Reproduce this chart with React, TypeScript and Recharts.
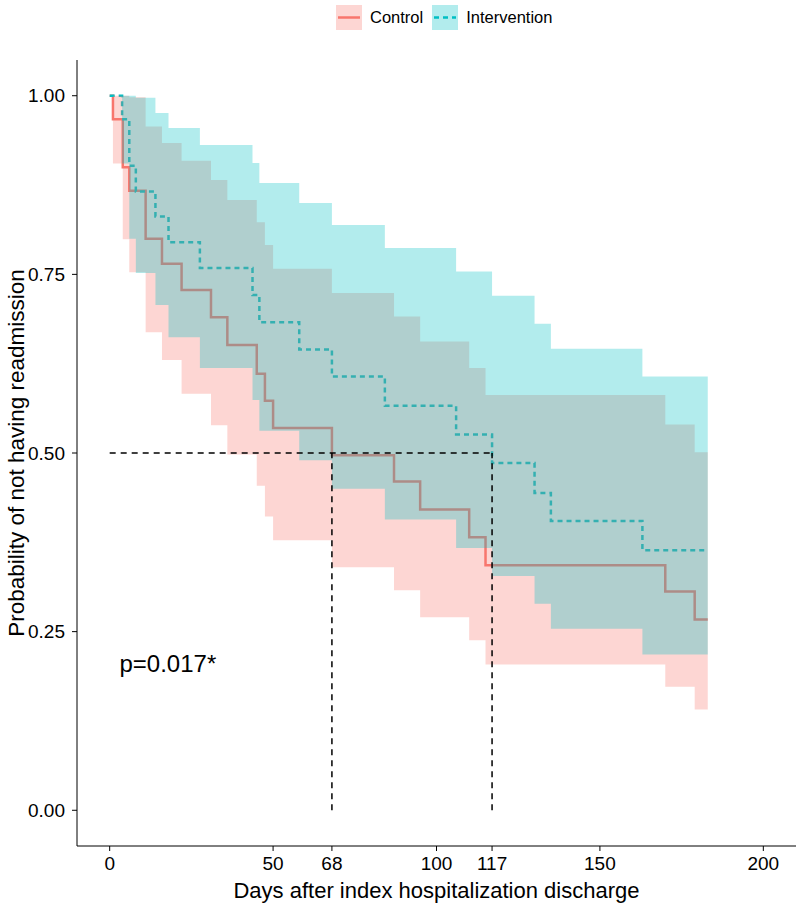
import React from "react";
import {
  ComposedChart,
  Line,
  Area,
  XAxis,
  YAxis,
  ReferenceLine,
  ReferenceDot,
} from "recharts";

// Kaplan-Meier steps (time in days, survival probability)
const ctrlTimes = [0, 1, 4, 6, 11, 16, 22, 31, 36, 45, 47.5, 50, 68, 87, 95, 110, 115, 170, 179, 183];
const ctrlSurv = [1, 0.967, 0.9, 0.867, 0.8, 0.765, 0.728, 0.69, 0.651, 0.611, 0.573, 0.535, 0.497, 0.46, 0.421, 0.382, 0.343, 0.306, 0.267, 0.267];
const ctrlUpper = [1, 1, 1, 0.998, 0.957, 0.934, 0.909, 0.882, 0.854, 0.823, 0.791, 0.758, 0.724, 0.691, 0.656, 0.619, 0.581, 0.54, 0.501, 0.501];
const ctrlLower = [1, 0.905, 0.799, 0.753, 0.669, 0.63, 0.583, 0.539, 0.498, 0.454, 0.411, 0.378, 0.34, 0.308, 0.27, 0.238, 0.204, 0.173, 0.141, 0.141];

const intTimes = [0, 3.8, 6, 8, 14, 18, 27.6, 43.7, 45.8, 58, 68, 84.2, 106, 117, 130, 135, 163, 183];
const intSurv = [1, 0.967, 0.902, 0.866, 0.831, 0.795, 0.759, 0.721, 0.683, 0.645, 0.607, 0.566, 0.526, 0.486, 0.444, 0.405, 0.364, 0.364];
const intUpper = [1, 1, 1, 0.997, 0.976, 0.955, 0.931, 0.906, 0.878, 0.85, 0.819, 0.787, 0.754, 0.72, 0.681, 0.646, 0.607, 0.607];
const intLower = [1, 0.905, 0.8, 0.752, 0.707, 0.662, 0.619, 0.574, 0.531, 0.49, 0.45, 0.407, 0.367, 0.328, 0.289, 0.254, 0.218, 0.218];

const xTicks = [0, 50, 68, 100, 117, 150, 200];
const yTicks = [0, 0.25, 0.5, 0.75, 1];
const medianCtrl = 68;
const medianInt = 117;
const pValue = "p=0.017*";

const RED = "#F8766D";
const CYAN = "#00BFC4";
const FONT = "'Liberation Sans', Arial, sans-serif";

const stepAt = (times: number[], vals: number[], t: number) => {
  if (t < times[0] || t > times[times.length - 1]) return undefined;
  let v = vals[0];
  for (let i = 0; i < times.length; i++) if (times[i] <= t) v = vals[i];
  return v;
};

const allTimes = Array.from(new Set([...ctrlTimes, ...intTimes])).sort((a, b) => a - b);

const rows = allTimes.map((t) => {
  const cl = stepAt(ctrlTimes, ctrlLower, t);
  const cu = stepAt(ctrlTimes, ctrlUpper, t);
  const il = stepAt(intTimes, intLower, t);
  const iu = stepAt(intTimes, intUpper, t);
  return {
    t,
    ctrl: stepAt(ctrlTimes, ctrlSurv, t),
    inter: stepAt(intTimes, intSurv, t),
    ctrlBand: cl === undefined ? null : [cl, cu],
    intBand: il === undefined ? null : [il, iu],
  };
});

const LegendKey = ({ color, dashed }: { color: string; dashed?: boolean }) => (
  <svg width={26} height={25} style={{ display: "block" }}>
    <rect x={0} y={0} width={26} height={25} fill={color} fillOpacity={0.3} />
    <line
      x1={2}
      x2={24}
      y1={12.5}
      y2={12.5}
      stroke={color}
      strokeWidth={2.5}
      strokeDasharray={dashed ? "5 4" : undefined}
    />
  </svg>
);

export default function App() {
  return (
    <div
      style={{
        position: "absolute",
        left: 0,
        top: 0,
        width: 800,
        height: 907,
        background: "#fff",
        fontFamily: FONT,
      }}
    >
      <div
        style={{
          position: "absolute",
          top: 5,
          left: 336,
          display: "flex",
          alignItems: "center",
          fontSize: 16.5,
          color: "#000",
        }}
      >
        <LegendKey color={RED} />
        <span style={{ margin: "0 9px 0 8px" }}>Control</span>
        <LegendKey color={CYAN} dashed />
        <span style={{ marginLeft: 8 }}>Intervention</span>
      </div>
      <ComposedChart
        width={800}
        height={907}
        data={rows}
        margin={{ top: 60, right: 4, left: 0, bottom: 0 }}
      >
        <XAxis
          dataKey="t"
          type="number"
          domain={[-10, 210]}
          ticks={xTicks}
          interval={0}
          height={61}
          tickSize={5}
          tickMargin={6}
          stroke="#000"
          tick={{ fill: "#000", fontSize: 19, fontFamily: FONT }}
          label={{
            value: "Days after index hospitalization discharge",
            position: "insideBottom",
            offset: 9,
            style: { fill: "#000", fontSize: 22, fontFamily: FONT },
          }}
        />
        <YAxis
          type="number"
          domain={[-0.05, 1.05]}
          ticks={yTicks}
          interval={0}
          width={77}
          tickSize={5}
          tickMargin={7}
          stroke="#000"
          tickFormatter={(v: number) => v.toFixed(2)}
          tick={{ fill: "#000", fontSize: 19, fontFamily: FONT }}
          label={{
            value: "Probability of not having readmission",
            angle: -90,
            position: "insideLeft",
            offset: 16,
            style: { fill: "#000", fontSize: 22.5, fontFamily: FONT, textAnchor: "middle" },
          }}
        />
        <Line
          type="stepAfter"
          dataKey="ctrl"
          stroke={RED}
          strokeWidth={2.5}
          dot={false}
          activeDot={false}
          isAnimationActive={false}
        />
        <Line
          type="stepAfter"
          dataKey="inter"
          stroke={CYAN}
          strokeWidth={2.5}
          strokeDasharray="5 4"
          dot={false}
          activeDot={false}
          isAnimationActive={false}
        />
        <Area
          type="stepAfter"
          dataKey="ctrlBand"
          fill={RED}
          fillOpacity={0.3}
          stroke="none"
          zIndex={450}
          isAnimationActive={false}
        />
        <Area
          type="stepAfter"
          dataKey="intBand"
          fill={CYAN}
          fillOpacity={0.3}
          stroke="none"
          zIndex={460}
          isAnimationActive={false}
        />
        <ReferenceLine
          segment={[{ x: 0, y: 0.5 }, { x: medianInt, y: 0.5 }]}
          stroke="#000"
          strokeWidth={1.5}
          strokeDasharray="6 5"
          zIndex={600}
        />
        <ReferenceLine
          segment={[{ x: medianCtrl, y: 0 }, { x: medianCtrl, y: 0.5 }]}
          stroke="#000"
          strokeWidth={1.5}
          strokeDasharray="6 5"
          zIndex={600}
        />
        <ReferenceLine
          segment={[{ x: medianInt, y: 0 }, { x: medianInt, y: 0.5 }]}
          stroke="#000"
          strokeWidth={1.5}
          strokeDasharray="6 5"
          zIndex={600}
        />
        <ReferenceDot
          x={3}
          y={0.206}
          r={0.01}
          fill="none"
          stroke="none"
          label={{
            value: pValue,
            position: "right",
            offset: 0,
            style: { fill: "#000", fontSize: 24, fontFamily: FONT },
          }}
        />
      </ComposedChart>
    </div>
  );
}
